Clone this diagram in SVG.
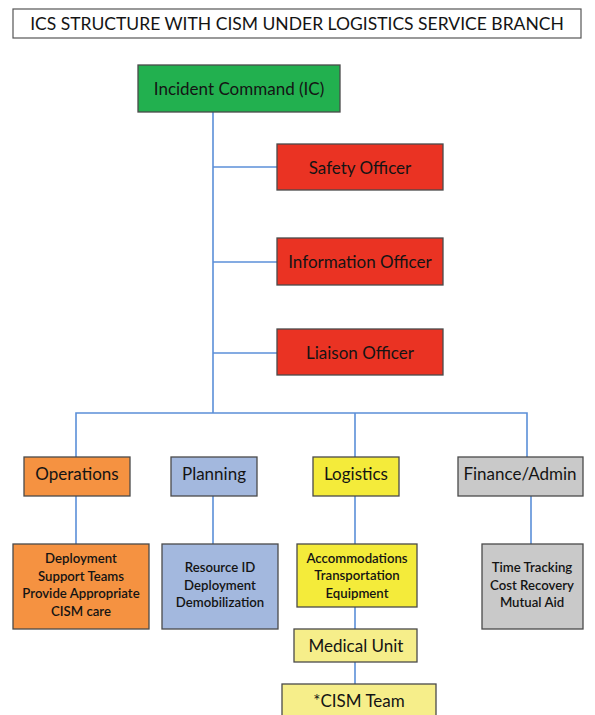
<svg xmlns="http://www.w3.org/2000/svg" width="595" height="715" viewBox="0 0 595 715">
<style>
text{font-family:Lato,"Liberation Sans",sans-serif;fill:#141414;text-anchor:middle;dominant-baseline:central}
.box{stroke:#4a4a4a;stroke-width:1.3}
.t{font-size:17px}
.d{font-size:13.2px;font-weight:600}
.c{stroke:#5b8fd8;fill:none;stroke-width:1.6}
</style>
<rect width="595" height="715" fill="#ffffff"/>
<g id="title">
<rect x="13" y="9" width="568" height="29" fill="#fff" stroke="#555" stroke-width="1.2"/>
<text x="297" y="23.5" style="font-size:17.5px">ICS STRUCTURE WITH CISM UNDER LOGISTICS SERVICE BRANCH</text>
</g>
<g id="connectors">
<path class="c" d="M213 112V413" stroke-width="2"/>
<path class="c" d="M213 167H277"/>
<path class="c" d="M213 262H277" stroke-width="2"/>
<path class="c" d="M213 353H277"/>
<path class="c" d="M76 457V413H527V457" stroke-width="2"/>
<path class="c" d="M355 413V457"/>
<path class="c" d="M76 496V544" stroke-width="2"/>
<path class="c" d="M213 496V544" stroke-width="2"/>
<path class="c" d="M355 496V544"/>
<path class="c" d="M531 496V544"/>
<path class="c" d="M355 607V629" stroke-width="2"/>
<path class="c" d="M355 662V684"/>
</g>
<g id="ic"><rect class="box" x="138" y="65" width="202" height="47" fill="#22b04f"/><text class="t" x="239" y="88.5">Incident Command (IC)</text></g>
<g id="safety"><rect class="box" x="277" y="144" width="166" height="46" fill="#ea3323"/><text class="t" x="360" y="167">Safety Officer</text></g>
<g id="information"><rect class="box" x="277" y="238" width="166" height="47" fill="#ea3323"/><text class="t" x="360" y="261.5">Information Officer</text></g>
<g id="liaison"><rect class="box" x="277" y="329" width="166" height="46" fill="#ea3323"/><text class="t" x="360" y="352">Liaison Officer</text></g>
<g id="operations"><rect class="box" x="24" y="457" width="106" height="39" fill="#f59241"/><text class="t" x="77" y="473">Operations</text></g>
<g id="planning"><rect class="box" x="171" y="457" width="86" height="39" fill="#a3b8de"/><text class="t" x="214" y="473">Planning</text></g>
<g id="logistics"><rect class="box" x="313" y="457" width="86" height="39" fill="#f4eb3a"/><text class="t" x="356" y="473">Logistics</text></g>
<g id="finance"><rect class="box" x="458" y="457" width="125" height="39" fill="#c9c9c9"/><text class="t" x="520" y="473">Finance/Admin</text></g>
<g id="operations-detail"><rect class="box" x="13" y="544" width="136" height="85" fill="#f59241"/>
<text class="d" x="81" y="558">Deployment</text><text class="d" x="81" y="576">Support Teams</text><text class="d" x="81" y="593">Provide Appropriate</text><text class="d" x="81" y="611">CISM care</text></g>
<g id="planning-detail"><rect class="box" x="162" y="544" width="116" height="85" fill="#a3b8de"/>
<text class="d" x="220" y="567">Resource ID</text><text class="d" x="220" y="585">Deployment</text><text class="d" x="220" y="602">Demobilization</text></g>
<g id="logistics-detail"><rect class="box" x="297" y="544" width="120" height="63" fill="#f4eb3a"/>
<text class="d" x="357" y="558">Accommodations</text><text class="d" x="357" y="575">Transportation</text><text class="d" x="357" y="593">Equipment</text></g>
<g id="finance-detail"><rect class="box" x="482" y="544" width="101" height="85" fill="#c9c9c9"/>
<text class="d" x="532" y="567">Time Tracking</text><text class="d" x="532" y="585">Cost Recovery</text><text class="d" x="532" y="602">Mutual Aid</text></g>
<g id="medical"><rect class="box" x="294" y="629" width="123" height="33" fill="#f6ee8a"/><text class="t" x="356" y="645.5">Medical Unit</text></g>
<g id="cism"><rect class="box" x="282" y="684" width="154" height="40" fill="#f6ee8a"/><text class="t" x="359" y="700">*CISM Team</text></g>
</svg>
